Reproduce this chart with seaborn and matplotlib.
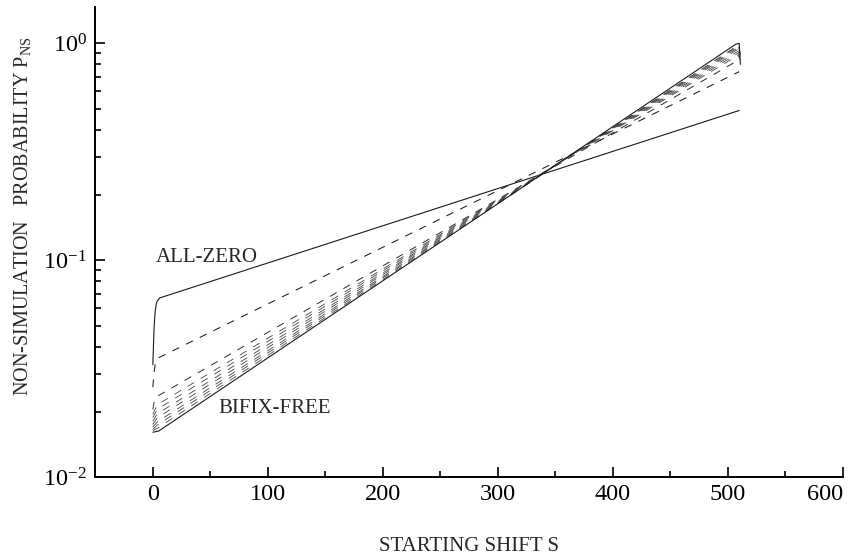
import numpy as np
import pandas as pd
import matplotlib
matplotlib.use("Agg")
import matplotlib.pyplot as plt
import matplotlib.ticker as mticker
import seaborn as sns

# ---- data (starting shift s, probability P_NS) ----
allzero_s = [0, 1, 2, 3, 4, 6, 510]
allzero_p = [0.033, 0.048, 0.058, 0.063, 0.065, 0.067, 0.49]

dashA_s = [0, 1, 2, 3, 5, 510]
dashA_p = [0.026, 0.030, 0.033, 0.0345, 0.0355, 0.74]

dashB_s = [0, 1, 2, 4, 510]
dashB_p = [0.0205, 0.022, 0.023, 0.0236, 0.84]

dense_s = [0, 2, 4, 509, 511]
dense_start = [0.0195, 0.0188, 0.0181, 0.0175, 0.0170, 0.0166, 0.0164]
dense_kink = [0.0216, 0.0206, 0.0196, 0.0188, 0.0180, 0.0174, 0.0168]
dense_end = [0.88, 0.90, 0.92, 0.94, 0.955, 0.97, 0.98]
dense_drop = [0.84, 0.85, 0.86, 0.87, 0.88, 0.89, 0.90]

bifix_s = [0, 5, 507, 510, 511]
bifix_p = [0.0161, 0.0163, 0.99, 1.0, 0.80]

xticks = [0, 100, 200, 300, 400, 500, 600]

# ---- style ----
sns.set_style("ticks")
plt.rcParams["font.family"] = ["Liberation Serif", "DejaVu Serif"]
plt.rcParams["mathtext.fontset"] = "custom"
plt.rcParams["mathtext.rm"] = "Liberation Serif"
plt.rcParams["mathtext.it"] = "Liberation Serif:italic"
plt.rcParams["lines.scale_dashes"] = False
plt.rcParams["axes.unicode_minus"] = False

fig = plt.figure(figsize=(8.59, 5.60), dpi=100)
ax = fig.add_axes([0.111, 0.148, 0.870, 0.8395])

curves = [(allzero_s, allzero_p, "solid", "#1a1a1a", 0.8)]
curves.append((dashA_s, dashA_p, "dash", "#1a1a1a", 0.75))
curves.append((dashB_s, dashB_p, "dash", "#2a2a2a", 0.7))
for a, k, e, d in zip(dense_start, dense_kink, dense_end, dense_drop):
    curves.append((dense_s, [a, (a + k) / 2, k, e, d], "dash", "#444444", 0.6))
curves.append((bifix_s, bifix_p, "solid", "#1a1a1a", 0.8))

for xs, ys, kind, col, lw in curves:
    sns.lineplot(x=xs, y=ys, ax=ax, color=col, lw=lw,
                 estimator=None, sort=False, legend=False)
    if kind == "dash":
        ax.lines[-1].set_dashes((5.5, 5.5))

ax.set_yscale("log")
ax.set_xlim(-50, 600)
ax.set_ylim(0.01, 1.47)
ax.set_xticks(xticks)
ax.xaxis.set_minor_locator(mticker.MultipleLocator(50))
ax.yaxis.set_major_locator(mticker.LogLocator(base=10, numticks=10))
ax.yaxis.set_minor_locator(mticker.LogLocator(base=10, subs=np.arange(2, 10), numticks=20))
ax.yaxis.set_minor_formatter(mticker.NullFormatter())

sns.despine(ax=ax)
for sp in ("left", "bottom"):
    ax.spines[sp].set_linewidth(1.4)
    ax.spines[sp].set_color("black")

ax.tick_params(axis="both", which="major", direction="in", length=7.5, width=1.2,
               labelsize=17.5, colors="black", pad=5)
ax.tick_params(axis="both", which="minor", direction="in", length=4.2, width=1.2,
               colors="black")
ax.tick_params(axis="y", which="major", pad=6)

# last x tick label kept inside the figure, as in the reference
fig.canvas.draw()
ax.get_xticklabels()[-1].set_horizontalalignment("right")
ax.get_xticklabels()[-1].set_x(603)

ax.set_xlabel("STARTING SHIFT S", fontsize=15, labelpad=0)
ax.xaxis.set_label_coords(0.5, -0.128)
ax.set_ylabel("NON-SIMULATION   PROBABILITY P$_{\\mathrm{NS}}$", fontsize=14.5)
ax.yaxis.set_label_coords(-0.083, 0.555)

ax.text(3, 0.103, "ALL-ZERO", fontsize=15, va="center", ha="left")
ax.text(57, 0.0208, "BIFIX-FREE", fontsize=15, va="center", ha="left")

fig.savefig("out.png", dpi=100)
